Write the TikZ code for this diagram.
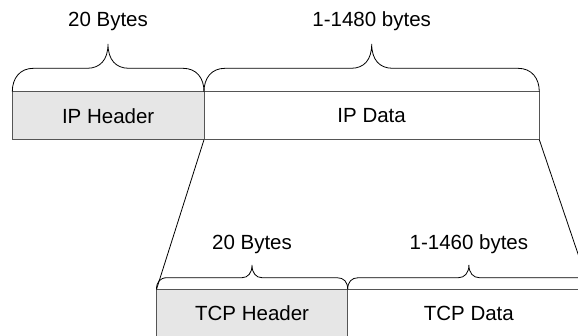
\documentclass[tikz,border=0pt]{standalone}
\usepackage{fontspec}
\setmainfont{Liberation Sans}
\usepackage{tikz}

\tikzset{
  segbox/.style={draw={rgb, 255:red, 85; green, 85; blue, 85}, line width=0.9pt, inner sep=0pt, outer sep=0pt, minimum height=48pt, font=\fontsize{20.5}{24}\selectfont},
  hdrbox/.style={segbox, fill={rgb, 255:red, 230; green, 230; blue, 230}},
  brc/.style={draw=black, line width=0.8pt},
  lbl/.style={font=\fontsize{20.5}{24}\selectfont, inner sep=0pt}
}

\begin{document}
\begin{tikzpicture}[x=1pt,y=1pt,yscale=-1,xscale=1]
\clip (0,0) rectangle (578,335);

%Shape: Rectangle [IP header]
\node [hdrbox, anchor=north west, minimum width=191.7pt] (iphdr) at (12.3,91.7) {IP Header};
%Shape: Rectangle [IP data]
\node [segbox, anchor=north west, minimum width=335.3pt] (ipdata) at (iphdr.north east) {IP Data};
%Shape: Rectangle [TCP header]
\node [hdrbox, anchor=north west, minimum width=191.2pt] (tcphdr) at (156.5,289.3) {TCP Header};
%Shape: Rectangle [TCP data]
\node [segbox, anchor=north west, minimum width=242.3pt] (tcpdata) at (tcphdr.north east) {TCP Data};

%Straight Lines [zoom]
\draw [line width=0.8pt] (ipdata.south west) -- (tcphdr.north west) ;
\draw [line width=0.8pt] (ipdata.south east) -- (tcpdata.north east) ;

%Curve Lines [brace over IP header]
\draw [brc] (12.3,91.7) .. controls (12.3,78) and (20,68.3) .. (33.5,68.3) -- (87,68.3) .. controls (100,68.3) and (108,60) .. (108,44) .. controls (108,60) and (116,68.3) .. (129,68.3) -- (183,68.3) .. controls (196.5,68.3) and (204,78) .. (204,91.7) ;
%Curve Lines [brace over IP data]
\draw [brc] (204,91.7) .. controls (204,78) and (211.5,68.3) .. (225,68.3) -- (351,68.3) .. controls (364,68.3) and (371.7,60) .. (371.7,44) .. controls (371.7,60) and (379.7,68.3) .. (392.7,68.3) -- (518,68.3) .. controls (531.5,68.3) and (539.3,78) .. (539.3,91.7) ;
%Curve Lines [brace over TCP header]
\draw [brc] (156.5,289.3) .. controls (156.5,282) and (160,277.7) .. (167.2,277.7) -- (242,277.7) .. controls (248,277.7) and (252,273) .. (252,265) .. controls (252,273) and (256,277.7) .. (262,277.7) -- (337,277.7) .. controls (344,277.7) and (347.7,282) .. (347.7,289.3) ;
%Curve Lines [brace over TCP data]
\draw [brc] (347.7,289.3) .. controls (347.7,282) and (351.5,277.7) .. (358.4,277.7) -- (458.5,277.7) .. controls (464.5,277.7) and (468.9,273) .. (468.9,265) .. controls (468.9,273) and (473.3,277.7) .. (479.3,277.7) -- (579.3,277.7) .. controls (586.3,277.7) and (590,282) .. (590,289.3) ;

% Text Node
\node [lbl] (iphdrlen) at (108,21.5) {20 Bytes};
% Text Node
\node [lbl] (ipdatalen) at (371.7,21.5) {1-1480 bytes};
% Text Node
\node [lbl] (tcphdrlen) at (252,244) {20 Bytes};
% Text Node
\node [lbl] (tcpdatalen) at (468.9,244) {1-1460 bytes};

\end{tikzpicture}
\end{document}
